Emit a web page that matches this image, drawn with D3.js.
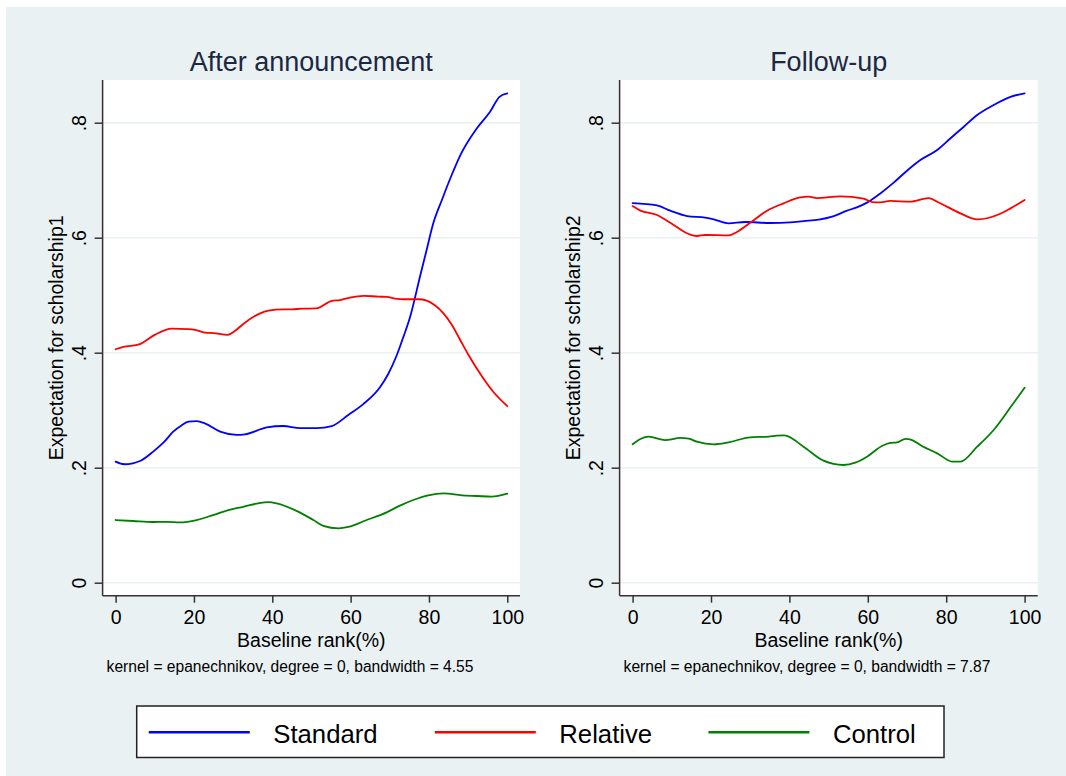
<!DOCTYPE html>
<html>
<head>
<meta charset="utf-8">
<script src="https://cdn.jsdelivr.net/npm/d3@7"></script>
<style>
  html, body { margin: 0; padding: 0; background: #ffffff; }
  svg { display: block; }
  text { font-family: "Liberation Sans", Arial, Helvetica, sans-serif; }
</style>
</head>
<body>
<svg id="chart" width="1066" height="776"></svg>
<script>
// ---------------- data ----------------
const xTicks = [0, 20, 40, 60, 80, 100];
const yTicks = [0, 0.2, 0.4, 0.6, 0.8];
const yTickLabels = ["0", ".2", ".4", ".6", ".8"];
const seriesNames = ["Standard", "Relative", "Control"];
const panelTitles = ["After announcement", "Follow-up"];
const yTitles = ["Expectation for scholarship1", "Expectation for scholarship2"];
const xTitle = "Baseline rank(%)";
const notes = ["kernel = epanechnikov, degree = 0, bandwidth = 4.55",
               "kernel = epanechnikov, degree = 0, bandwidth = 7.87"];

// After announcement
const stdAfterX = [0,2.2,4.4,6.4,9.6,12.2,14.7,16.9,18.6,20.7,22.8,26.7,30.9,33,38.6,42.8,47.1,51.3,55.2,59.4,63.3,67.5,69.6,71.8,73.5,75.2,77.7,79.4,81.1,83.3,85.8,87.9,92.2,95.6,98,100];
const stdAfterY = [.2105,.206,.2077,.212,.228,.2435,.2626,.274,.280,.281,.277,.2626,.257,.258,.270,.2725,.269,.269,.2725,.2917,.311,.340,.363,.396,.428,.4626,.532,.5786,.625,.6656,.709,.742,.790,.819,.845,.851];
const relAfterX = [0,2,6.2,10,14.3,18.6,20.3,22.8,25,28.6,30.5,32.6,36.9,39,42.8,45,47.5,51.2,55.2,57.3,59.4,63.3,67.1,69.2,71.8,73.5,77.3,79.4,81.5,83.7,85.8,87.9,90.1,93.9,96.4,100];
const relAfterY = [.406,.410,.415,.431,.442,.441,.4395,.435,.434,.431,.438,.450,.4685,.473,.4755,.4755,.4765,.477,.490,.4915,.495,.499,.4975,.497,.4935,.493,.493,.4905,.4825,.4685,.449,.423,.396,.355,.332,.307];
const ctlAfterX = [0,4.5,9.6,13,16.4,20.7,24.9,28.8,32.6,36.4,39,41.1,46.2,50.5,53,56.9,59.4,64.1,69.2,72.6,76,79.8,83.7,88.4,92.2,96,100];
const ctlAfterY = [.109,.1073,.1056,.1058,.105,.109,.1177,.1264,.132,.138,.140,.138,.125,.109,.099,.0946,.0969,.109,.1224,.134,.1438,.152,.1555,.152,.1508,.1496,.1548];

// Follow-up
const stdFollowX = [0,6.2,9.6,13.9,18.5,20.7,24.5,28.7,35.1,40.2,43.6,47.5,50.9,54.7,57.2,59.8,63.2,66.6,70,73.4,77.7,81.1,84.5,87.9,92.1,96.4,100];
const stdFollowY = [.6603,.6563,.647,.6377,.6348,.632,.625,.6273,.6256,.6268,.629,.6313,.6365,.647,.6528,.661,.677,.6957,.7165,.735,.7525,.773,.793,.8134,.8308,.845,.851];
const relFollowX = [0,2,6.2,9.6,14.3,16.4,18.5,24.5,26.6,30,34.3,38.5,42.8,44.9,47,53,58.9,61.1,63.2,65.7,70.8,75.5,77.7,83.6,87.9,93.8,96.4,100];
const relFollowY = [.655,.647,.6395,.626,.6064,.603,.6047,.604,.61,.626,.647,.6598,.670,.6713,.669,.672,.668,.662,.6616,.664,.6626,.669,.6626,.6424,.632,.6417,.651,.6656];
const ctlFollowX = [0,2,4.1,8.3,12.2,14.3,16.4,20.7,24.5,30,34.7,36.8,38.7,43.6,48.7,53.8,56.8,59.8,63.6,65.7,67.5,69.6,71.3,73.8,77.7,81.7,83.6,87.9,92.1,96.4,100];
const ctlFollowY = [.2407,.250,.254,.248,.2517,.2505,.2452,.2407,.2442,.2529,.254,.2557,.2563,.2365,.2122,.2047,.2087,.2191,.2377,.243,.2442,.250,.248,.2377,.225,.2104,.2104,.2365,.2656,.305,.339];

// ---------------- layout & style ----------------
const colors = ["#0000ff", "#ff0000", "#008000"];
const bg = "#eaf1f3";
const svg = d3.select("#chart");

svg.append("rect").attr("x", 6).attr("y", 7).attr("width", 1060).attr("height", 769).attr("fill", bg);

const panels = [
  { frameL: 102.6, frameR: 520, x0: 115.6, x1: 507.3,
    series: [[stdAfterX, stdAfterY], [relAfterX, relAfterY], [ctlAfterX, ctlAfterY]] },
  { frameL: 619.6, frameR: 1037.7, x0: 632.6, x1: 1024.6,
    series: [[stdFollowX, stdFollowY], [relFollowX, relFollowY], [ctlFollowX, ctlFollowY]] }
];
const frameT = 80, frameB = 595.7;

panels.forEach((p, pi) => {
  const x = d3.scaleLinear().domain([0, 100]).range([p.x0, p.x1]);
  const y = d3.scaleLinear().domain([0, 0.8]).range([582.7, 122.7]);
  const g = svg.append("g");
  const cx = (p.frameL + p.frameR) / 2;

  // plot region
  g.append("rect").attr("x", p.frameL).attr("y", frameT)
    .attr("width", p.frameR - p.frameL).attr("height", frameB - frameT).attr("fill", "#ffffff");

  // gridlines
  g.selectAll(".grid").data(yTicks).enter().append("line")
    .attr("x1", p.frameL).attr("x2", p.frameR)
    .attr("y1", d => y(d)).attr("y2", d => y(d))
    .attr("stroke", bg).attr("stroke-width", 1.6);

  // series
  p.series.forEach((s, si) => {
    const pts = s[0].map((xv, i) => [xv, s[1][i]]);
    const line = d3.line().x(d => x(d[0])).y(d => y(d[1])).curve(d3.curveMonotoneX);
    g.append("path").attr("d", line(pts)).attr("fill", "none")
      .attr("stroke", colors[si]).attr("stroke-width", 1.8)
      .attr("stroke-linejoin", "round").attr("stroke-linecap", "round");
  });

  // axes
  const xAxis = d3.axisBottom(x).tickValues(xTicks).tickSize(7).tickSizeOuter(0).tickPadding(9);
  const xg = g.append("g").attr("transform", `translate(0,${frameB})`).call(xAxis);
  xg.select(".domain").attr("d", `M${p.frameL},0H${p.frameR}`);
  const yAxis = d3.axisLeft(y).tickValues(yTicks).tickSize(8).tickSizeOuter(0)
    .tickFormat((d, i) => yTickLabels[i]);
  const yg = g.append("g").attr("transform", `translate(${p.frameL},0)`).call(yAxis);
  yg.select(".domain").attr("d", `M0,${frameT}V${frameB}`);
  [xg, yg].forEach(a => {
    a.select(".domain").attr("stroke", "#333333").attr("stroke-width", 1.5);
    a.selectAll(".tick line").attr("stroke", "#333333").attr("stroke-width", 1.5);
    a.selectAll(".tick text").attr("fill", "#000000").attr("font-size", 19.5)
      .attr("font-family", "Liberation Sans, Arial, sans-serif");
  });
  xg.selectAll(".tick text").attr("dy", null).attr("y", 28.3);
  yg.selectAll(".tick text")
    .attr("x", null).attr("dy", null).attr("text-anchor", "middle")
    .attr("transform", "translate(-17,0) rotate(-90)").attr("y", 0);

  // title
  g.append("text").attr("x", cx).attr("y", 70.7).attr("text-anchor", "middle")
    .attr("font-size", 27).attr("fill", "#1c2841").text(panelTitles[pi]);

  // axis titles
  g.append("text").attr("x", cx).attr("y", 646.7).attr("text-anchor", "middle")
    .attr("font-size", 19.5).attr("fill", "#000").text(xTitle);
  g.append("text").attr("transform", `translate(${p.frameL - 40},${(frameT + frameB) / 2}) rotate(-90)`)
    .attr("text-anchor", "middle").attr("font-size", 19.5).attr("fill", "#000").text(yTitles[pi]);

  // note
  g.append("text").attr("x", p.frameL + 4).attr("y", 671.7)
    .attr("font-size", 15.6).attr("fill", "#000").text(notes[pi]);
});

// ---------------- legend ----------------
const legend = svg.append("g");
legend.append("rect").attr("x", 136.7).attr("y", 706).attr("width", 944 - 136.7).attr("height", 51.5)
  .attr("fill", "#ffffff").attr("stroke", "#222222").attr("stroke-width", 1.5);
const legendX = d3.scaleOrdinal().domain(seriesNames).range([148.8, 434.8, 708.4]);
seriesNames.forEach((name, i) => {
  const lx = legendX(name);
  legend.append("line").attr("x1", lx).attr("x2", lx + 101).attr("y1", 732.3).attr("y2", 732.3)
    .attr("stroke", colors[i]).attr("stroke-width", 2.5);
  legend.append("text").attr("x", lx + 124.5).attr("y", 743.3).attr("font-size", 25.7)
    .attr("fill", "#000").text(name);
});
</script>
</body>
</html>
